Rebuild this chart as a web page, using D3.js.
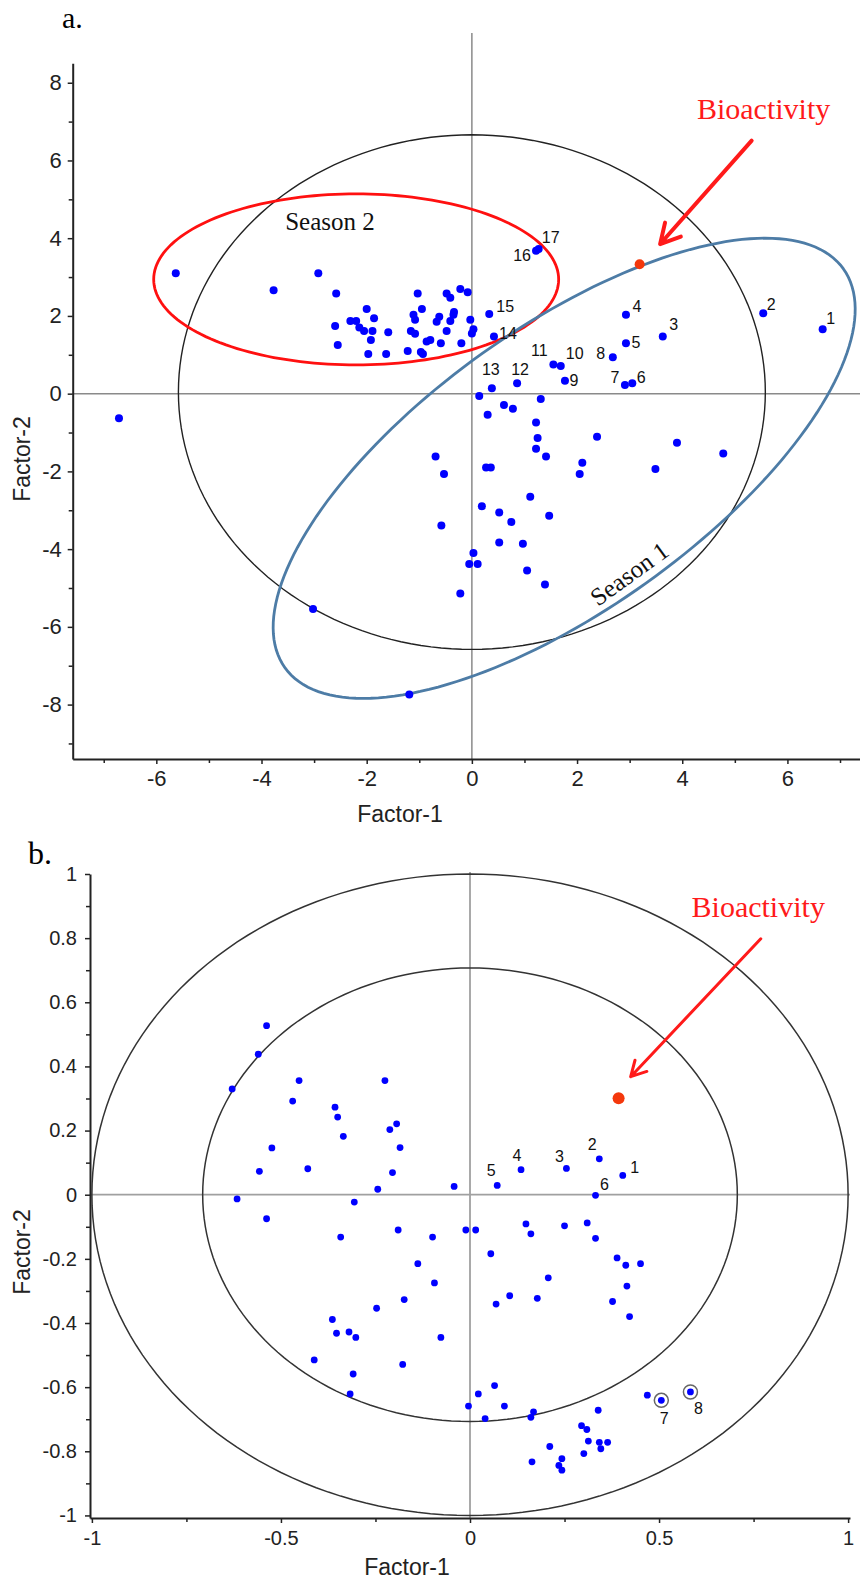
<!DOCTYPE html>
<html lang="en">
<head>
<meta charset="utf-8">
<title>PCA scores (a) and loadings (b)</title>
<script src="https://d3js.org/d3.v7.min.js"></script>
<style>
	body { margin: 0; background: #fff; }
	text { font-family: "Liberation Sans", Arial, sans-serif; fill: #222; }
	.serif { font-family: "Liberation Serif", "Times New Roman", serif; }
</style>
</head>
<body>
<svg id="fig" width="860" height="1580"></svg>
<script>

// ---------- panel a : scores ----------
var xTicksA = [-6, -4, -2, 0, 2, 4, 6];
var xMinorA = [-7, -5, -3, -1, 1, 3, 5, 7];
var yTicksA = [-8, -6, -4, -2, 0, 2, 4, 6, 8];
var yMinorA = [-9, -7, -5, -3, -1, 1, 3, 5, 7];

var pointsA = [
	[-5.63,3.10],[-3.77,2.66],[-2.92,3.10],[-2.58,2.58],[-2.60,1.74],[-2.55,1.25],[-2.31,1.87],[-2.20,1.87],
	[-2.14,1.70],[-2.05,1.61],[-2.00,2.18],[-1.86,1.94],[-1.89,1.61],[-1.92,1.38],[-1.97,1.02],[-1.63,1.02],
	[-1.59,1.58],[-1.22,1.10],[-1.03,2.58],[-1.11,2.03],[-1.08,1.90],[-0.95,2.18],[-1.16,1.61],[-1.08,1.54],
	[-0.97,1.07],[-0.93,1.02],[-0.86,1.34],[-0.79,1.38],[-0.59,1.30],[-0.67,1.85],[-0.62,1.98],[-0.48,2.58],
	[-0.41,2.47],[-0.22,2.69],[-0.08,2.61],[-0.48,1.61],[-0.41,1.87],[-0.35,2.03],[-0.34,2.10],[-0.20,1.30],
	[-0.03,1.90],[0.00,1.55],[0.03,1.66],
	[-6.71,-0.63],[-3.02,-5.54],[-1.19,-7.74],
	[0.14,-0.06],[0.61,-0.29],[0.78,-0.39],[0.30,-0.54],[1.31,-0.14],[1.22,-0.74],[1.25,-1.14],[1.22,-1.42],
	[1.41,-1.62],[2.38,-1.11],[3.90,-1.26],[4.78,-1.54],[3.49,-1.94],[2.10,-1.78],[2.05,-2.07],[-0.69,-1.62],
	[-0.53,-2.07],[0.27,-1.90],[0.36,-1.90],[1.11,-2.65],[0.19,-2.90],[0.52,-3.06],[0.75,-3.30],[1.47,-3.14],
	[-0.58,-3.39],[0.52,-3.83],[0.97,-3.86],[0.03,-4.10],[-0.05,-4.38],[0.11,-4.38],[1.05,-4.55],[1.39,-4.91],
	[-0.22,-5.14]
];

// samples numbered 1..17
var numberedA = [
	[6.67,1.66],[5.54,2.07],[3.63,1.47],[2.93,2.03],[2.93,1.30],[3.05,0.27],[2.91,0.22],[2.68,0.94],
	[1.77,0.33],[1.69,0.71],[1.55,0.75],[0.86,0.27],[0.38,0.14],[0.42,1.47],[0.33,2.05],[1.22,3.68],[1.27,3.72]
];
// label placement (pixels from the point)
var labelOffA = [
	[8,-11],[8,-9],[11,-12],[11,-9],[10,-1],[9,-6],[-10,-8],[-12,-4],
	[9,-1],[14,-13],[-14,-14],[3,-14],[-1,-19],[14,-3],[16,-8],[-14,5],[12,-12]
];
var bioA = [3.19, 3.33];

// ellipses: centre x, centre y, first semi-axis (x,y), second semi-axis (x,y)
var hotellingA = [0, 0.04, 5.58, 0, 0, 6.62];
var season2A = [-2.2, 2.94, 3.85, 0, 0, 2.2];
var season1A = [1.755, -1.92, 5.31, 5.13, 1.557, -2.955];

// ---------- panel b : loadings ----------
var xTicksB = [-1, -0.5, 0, 0.5, 1];
var xMinorB = [-0.75, -0.25, 0.25, 0.75];
var yTicksB = [-1, -0.8, -0.6, -0.4, -0.2, 0, 0.2, 0.4, 0.6, 0.8, 1];
var yMinorB = [-0.9, -0.7, -0.5, -0.3, -0.1, 0.1, 0.3, 0.5, 0.7, 0.9];

var pointsB = [
	[-0.538,0.527],[-0.560,0.438],[-0.629,0.330],[-0.452,0.356],[-0.469,0.292],[-0.357,0.273],[-0.350,0.242],
	[-0.335,0.182],[-0.225,0.356],[-0.212,0.203],[-0.194,0.221],[-0.185,0.147],[-0.205,0.069],[-0.244,0.017],
	[-0.042,0.026],[-0.524,0.146],[-0.557,0.073],[-0.429,0.081],[-0.616,-0.013],[-0.306,-0.023],
	[-0.538,-0.075],[-0.342,-0.132],[-0.190,-0.110],[-0.099,-0.132],[-0.011,-0.110],[0.015,-0.110],
	[-0.138,-0.215],[-0.094,-0.275],[-0.174,-0.327],[-0.247,-0.354],[-0.364,-0.389],[-0.353,-0.432],
	[-0.320,-0.428],[-0.302,-0.445],[-0.077,-0.445],[-0.412,-0.515],[-0.178,-0.529],[-0.309,-0.559],
	[-0.317,-0.621],[-0.004,-0.659],[0.022,-0.621],
	[0.148,-0.091],[0.161,-0.122],[0.055,-0.184],[0.250,-0.097],[0.310,-0.088],[0.332,-0.136],[0.389,-0.197],
	[0.412,-0.220],[0.451,-0.215],[0.207,-0.259],[0.415,-0.285],[0.105,-0.315],[0.178,-0.323],[0.069,-0.341],
	[0.377,-0.333],[0.422,-0.380],[0.065,-0.595],[0.091,-0.659],[0.040,-0.698],[0.161,-0.694],[0.168,-0.677],
	[0.339,-0.672],[0.469,-0.625],[0.295,-0.720],[0.309,-0.732],[0.313,-0.768],[0.342,-0.772],[0.364,-0.772],
	[0.346,-0.792],[0.301,-0.807],[0.211,-0.785],[0.164,-0.833],[0.243,-0.823],[0.235,-0.844],[0.243,-0.859]
];
var numberedB = [
	[0.404,0.060],[0.342,0.112],[0.255,0.082],[0.135,0.078],[0.072,0.029],[0.332,-0.002],[0.506,-0.641],[0.583,-0.615]
];
var labelOffB = [[12,-8],[-7,-15],[-7,-12],[-4,-14],[-6,-15],[9,-11],[3,18],[8,16]];
var circledB = [7, 8];
var bioB = [0.393, 0.301];
var circlesB = [[0, 0, 1, 0, 0, 1], [0, 0, 0.707, 0, 0, 0.707]];


var svg = d3.select("#fig");

// closed ellipse through the scales
var ellipsePath = function(x, y, e) {
	var pts = d3.range(0, 360, 2).map(function(deg) {
		var t = deg * Math.PI / 180;
		return [e[0] + e[2] * Math.cos(t) + e[4] * Math.sin(t),
				e[1] + e[3] * Math.cos(t) + e[5] * Math.sin(t)];
	});
	return d3.line()
		.x(function(d) { return x(d[0]); })
		.y(function(d) { return y(d[1]); })
		.curve(d3.curveLinearClosed)(pts);
};

// arrow pointing at the bioactivity point
var drawArrow = function(g, x, y, from, to, head, width) {
	var x0 = x(from[0]), y0 = y(from[1]), x1 = x(to[0]), y1 = y(to[1]);
	var ang = Math.atan2(y0 - y1, x0 - x1);
	var a1 = ang + 0.5, a2 = ang - 0.5;
	g.append("path")
		.attr("d", "M" + x0 + "," + y0 + "L" + x1 + "," + y1 +
			"M" + (x1 + head * Math.cos(a1)) + "," + (y1 + head * Math.sin(a1)) + "L" + x1 + "," + y1 +
			"L" + (x1 + head * Math.cos(a2)) + "," + (y1 + head * Math.sin(a2)))
		.attr("fill", "none")
		.attr("stroke", "#ff1a1a")
		.attr("stroke-width", width)
		.attr("stroke-linecap", "round")
		.attr("stroke-linejoin", "round");
};

var drawAxes = function(g, x, y, o) {
	var plain = function(d) { return String(d); };
	var xa = g.append("g").attr("transform", "translate(0," + o.yAxisAt + ")")
		.call(d3.axisBottom(x).tickValues(o.xTicks).tickFormat(plain).tickSize(5).tickSizeOuter(0).tickPadding(o.pad));
	g.append("g").attr("transform", "translate(0," + o.yAxisAt + ")")
		.call(d3.axisBottom(x).tickValues(o.xMinor).tickFormat("").tickSize(4).tickSizeOuter(0))
		.select(".domain").remove();
	var ya = g.append("g").attr("transform", "translate(" + o.xAxisAt + ",0)")
		.call(d3.axisLeft(y).tickValues(o.yTicks).tickFormat(plain).tickSize(5).tickSizeOuter(0).tickPadding(o.pad));
	g.append("g").attr("transform", "translate(" + o.xAxisAt + ",0)")
		.call(d3.axisLeft(y).tickValues(o.yMinor).tickFormat("").tickSize(4).tickSizeOuter(0))
		.select(".domain").remove();
	[xa, ya].forEach(function(a) {
		a.attr("font-family", "Liberation Sans, Arial, sans-serif").attr("font-size", o.fs);
		a.selectAll("text").style("fill", "#222");
		a.select(".domain").attr("stroke", "#222").attr("stroke-width", 2);
	});
	g.selectAll(".tick line").attr("stroke", "#222").attr("stroke-width", 1.5);
};


// ================= panel a =================
var xA = d3.scaleLinear().domain([-7.59, 7.38]).range([72.7, 860]);
var yA = d3.scaleLinear().domain([-9.4, 8.5]).range([759, 63.3]);
var gA = svg.append("g");

gA.append("text").attr("class", "serif").attr("x", 62).attr("y", 28)
	.attr("font-size", 30).style("fill", "#000").text("a.");

// zero lines
gA.append("line").attr("x1", xA(0)).attr("x2", xA(0)).attr("y1", 33).attr("y2", yA(-9.4))
	.attr("stroke", "#8a8a8a").attr("stroke-width", 1.5);
gA.append("line").attr("x1", xA(-7.59)).attr("x2", xA(7.38)).attr("y1", yA(0)).attr("y2", yA(0))
	.attr("stroke", "#8a8a8a").attr("stroke-width", 1.5);

drawAxes(gA, xA, yA, {xTicks: xTicksA, xMinor: xMinorA, yTicks: yTicksA, yMinor: yMinorA,
	yAxisAt: 759, xAxisAt: 72.7, fs: 22, pad: 6});

gA.append("path").attr("d", ellipsePath(xA, yA, hotellingA))
	.attr("fill", "none").attr("stroke", "#222").attr("stroke-width", 1.4);
gA.append("path").attr("d", ellipsePath(xA, yA, season2A))
	.attr("fill", "none").attr("stroke", "#ff1010").attr("stroke-width", 2.8);
gA.append("path").attr("d", ellipsePath(xA, yA, season1A))
	.attr("fill", "none").attr("stroke", "#4d7ca6").attr("stroke-width", 2.8);

gA.selectAll("circle.pt").data(pointsA.concat(numberedA)).enter()
	.append("circle").attr("class", "pt")
	.attr("cx", function(d) { return xA(d[0]); })
	.attr("cy", function(d) { return yA(d[1]); })
	.attr("r", 4)
	.attr("fill", "#0000ff");

gA.selectAll("text.num").data(numberedA).enter()
	.append("text").attr("class", "num")
	.attr("x", function(d, i) { return xA(d[0]) + labelOffA[i][0]; })
	.attr("y", function(d, i) { return yA(d[1]) + labelOffA[i][1]; })
	.attr("dy", "0.36em")
	.attr("text-anchor", "middle")
	.attr("font-size", 16)
	.style("fill", "#111")
	.text(function(d, i) { return i + 1; });

gA.append("circle").attr("cx", xA(bioA[0])).attr("cy", yA(bioA[1])).attr("r", 5)
	.attr("fill", "#f4380c");

gA.append("text").attr("class", "serif").attr("x", xA(-3.55)).attr("y", yA(4.21))
	.attr("font-size", 25).style("fill", "#111").text("Season 2");
gA.append("text").attr("class", "serif")
	.attr("transform", "translate(" + xA(2.40) + "," + yA(-5.49) + ") rotate(-36)")
	.attr("font-size", 25).style("fill", "#111").text("Season 1");

gA.append("text").attr("class", "serif").attr("x", xA(4.28)).attr("y", yA(7.07))
	.attr("font-size", 30).style("fill", "#ff1a1a").text("Bioactivity");
drawArrow(gA, xA, yA, [5.32, 6.51], [3.58, 3.85], 22, 4);

gA.append("text").attr("x", 400).attr("y", 822).attr("text-anchor", "middle")
	.attr("font-size", 23).text("Factor-1");
gA.append("text").attr("transform", "translate(30,459) rotate(-90)").attr("text-anchor", "middle")
	.attr("font-size", 23).text("Factor-2");


// ================= panel b =================
var xB = d3.scaleLinear().domain([-1.005, 1.005]).range([90, 850]);
var yB = d3.scaleLinear().domain([-1.008, 1.0]).range([1518, 874]);
var gB = svg.append("g");

gB.append("text").attr("class", "serif").attr("x", 28).attr("y", 864)
	.attr("font-size", 32).style("fill", "#000").text("b.");

gB.append("line").attr("x1", xB(0)).attr("x2", xB(0)).attr("y1", 872).attr("y2", 1518)
	.attr("stroke", "#a0a0a0").attr("stroke-width", 1.8);
gB.append("line").attr("x1", 90).attr("x2", 850).attr("y1", yB(0)).attr("y2", yB(0))
	.attr("stroke", "#a0a0a0").attr("stroke-width", 1.8);

drawAxes(gB, xB, yB, {xTicks: xTicksB, xMinor: xMinorB, yTicks: yTicksB, yMinor: yMinorB,
	yAxisAt: 1518, xAxisAt: 90, fs: 20, pad: 8});

gB.selectAll("path.ring").data(circlesB).enter()
	.append("path").attr("class", "ring")
	.attr("d", function(d) { return ellipsePath(xB, yB, d); })
	.attr("fill", "none").attr("stroke", "#333").attr("stroke-width", 1.5);

gB.selectAll("circle.ring7").data(circledB).enter()
	.append("circle").attr("class", "ring7")
	.attr("cx", function(d) { return xB(numberedB[d - 1][0]); })
	.attr("cy", function(d) { return yB(numberedB[d - 1][1]); })
	.attr("r", 7)
	.attr("fill", "none").attr("stroke", "#666").attr("stroke-width", 1.5);

gB.selectAll("circle.pt").data(pointsB.concat(numberedB)).enter()
	.append("circle").attr("class", "pt")
	.attr("cx", function(d) { return xB(d[0]); })
	.attr("cy", function(d) { return yB(d[1]); })
	.attr("r", 3.4)
	.attr("fill", "#0000ff");

gB.selectAll("text.num").data(numberedB).enter()
	.append("text").attr("class", "num")
	.attr("x", function(d, i) { return xB(d[0]) + labelOffB[i][0]; })
	.attr("y", function(d, i) { return yB(d[1]) + labelOffB[i][1]; })
	.attr("dy", "0.36em")
	.attr("text-anchor", "middle")
	.attr("font-size", 16)
	.style("fill", "#111")
	.text(function(d, i) { return i + 1; });

gB.append("circle").attr("cx", xB(bioB[0])).attr("cy", yB(bioB[1])).attr("r", 6)
	.attr("fill", "#f4380c");

gB.append("text").attr("class", "serif").attr("x", xB(0.586)).attr("y", yB(0.867))
	.attr("font-size", 30).style("fill", "#ff1a1a").text("Bioactivity");
drawArrow(gB, xB, yB, [0.769, 0.798], [0.425, 0.368], 17, 3);

gB.append("text").attr("x", 407).attr("y", 1575).attr("text-anchor", "middle")
	.attr("font-size", 23).text("Factor-1");
gB.append("text").attr("transform", "translate(30,1252) rotate(-90)").attr("text-anchor", "middle")
	.attr("font-size", 23).text("Factor-2");

</script>
</body>
</html>
